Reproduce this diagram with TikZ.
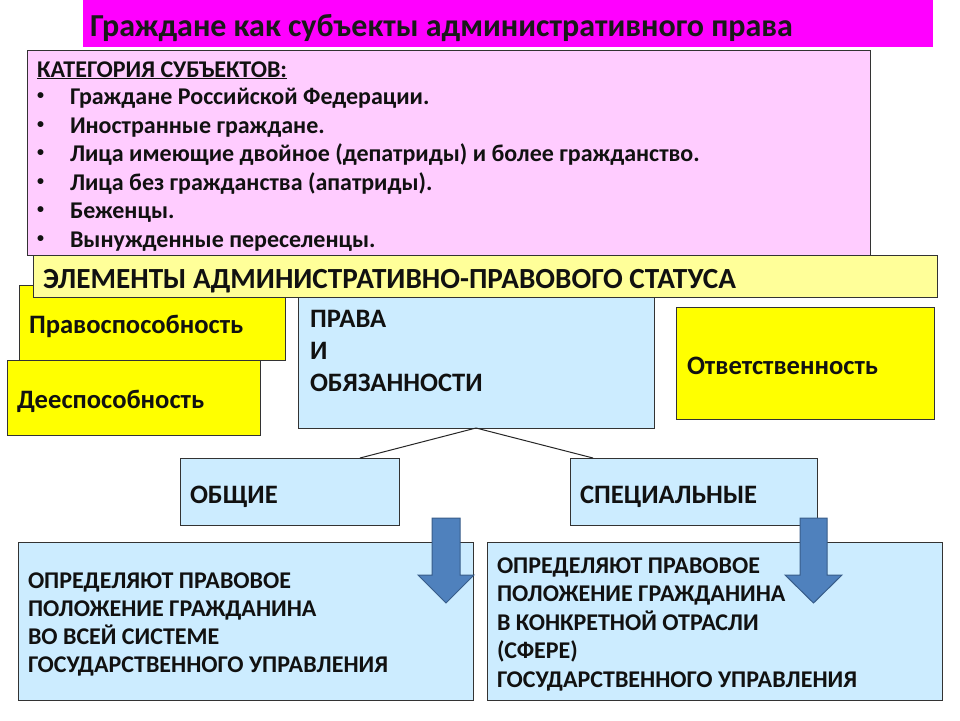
\documentclass[tikz,border=0pt]{standalone}
\usepackage{fontspec}
\setmainfont{Carlito}
\definecolor{magentaT}{HTML}{FF00FF}
\definecolor{pinkB}{HTML}{FFCCFF}
\definecolor{lyellow}{HTML}{FFFF99}
\definecolor{yellowB}{HTML}{FFFF00}
\definecolor{lblue}{HTML}{CCECFF}
\definecolor{arrowF}{HTML}{4F81BD}
\definecolor{arrowD}{HTML}{385D8A}
\definecolor{inkT}{HTML}{111111}
\begin{document}
\begin{tikzpicture}[x=1pt,y=-1pt,
  box/.style={draw=black!80, line width=0.9pt, anchor=north west, inner sep=0pt, outer sep=0pt},
  txt/.style={anchor=base west, inner sep=0pt, outer sep=0pt, text=inkT, font=\fontsize{24}{28}\selectfont\bfseries},
  bigtxt/.style={txt, font=\fontsize{26.6}{30}\selectfont\bfseries},
  blockarrow/.style={fill=arrowF, draw=arrowD, line width=1pt, line join=miter},
  conn/.style={draw=black!85, line width=1pt}]
\useasboundingbox (0,0) rectangle (960,720);
\fill[white] (0,0) rectangle (960,720);

% title
\node[anchor=north west, fill=magentaT, minimum width=850pt, minimum height=47pt, inner sep=0pt] (title) at (83,0) {};
\node[txt, font=\fontsize{32}{38}\selectfont\bfseries, text=black!90] (titletxt) at (90,36) {Граждане как субъекты административного права};

% categories
\node[box, fill=pinkB, minimum width=843pt, minimum height=205pt] (cat) at (27,50) {};
\node[txt] (cathead) at (37,77) {\underline{КАТЕГОРИЯ СУБЪЕКТОВ:}};
\foreach \i/\yy/\t in {1/104/{Граждане Российской Федерации.},
                       2/133/{Иностранные граждане.},
                       3/161/{Лица имеющие двойное (депатриды) и более гражданство.},
                       4/190/{Лица без гражданства (апатриды).},
                       5/218/{Беженцы.},
                       6/247/{Вынужденные переселенцы.}}{
  \node[txt] (bul\i) at (37,\yy-5) {\fontsize{14}{16}\selectfont•};
  \node[txt] (cat\i) at (70,\yy) {\t};
}

% rights and duties (behind bar)
\node[box, fill=lblue, minimum width=356pt, minimum height=143pt] (prava) at (298,285) {};
\node[bigtxt] (pr1) at (310,327) {ПРАВА};
\node[bigtxt] (pr2) at (310,359) {И};
\node[bigtxt] (pr3) at (310,391) {ОБЯЗАННОСТИ};

% capacity boxes
\node[box, fill=yellowB, minimum width=266pt, minimum height=75pt] (pravosp) at (19,285) {};
\node[bigtxt] (pravosptxt) at (29,333) {Правоспособность};

% elements bar
\node[box, fill=lyellow, minimum width=904pt, minimum height=42pt] (elem) at (33,255) {};
\node[txt, font=\fontsize{29.2}{32}\selectfont\bfseries] (elemtxt) at (43,288) {ЭЛЕМЕНТЫ АДМИНИСТРАТИВНО-ПРАВОВОГО СТАТУСА};

\node[box, fill=yellowB, minimum width=253pt, minimum height=75pt] (deesp) at (7,360) {};
\node[bigtxt] (deesptxt) at (17,408) {Дееспособность};

\node[box, fill=yellowB, minimum width=258pt, minimum height=112pt] (otv) at (676,307) {};
\node[bigtxt] (otvtxt) at (687,374) {Ответственность};

% general / special
\node[box, fill=lblue, minimum width=219pt, minimum height=67pt] (obsh) at (180,458) {};
\node[bigtxt] (obshtxt) at (190,503) {ОБЩИЕ};
\node[box, fill=lblue, minimum width=247pt, minimum height=67pt] (spec) at (570,458) {};
\node[bigtxt] (spectxt) at (580,503) {СПЕЦИАЛЬНЫЕ};

\draw[conn] (prava.south) -- ([xshift=70.5pt]obsh.north);
\draw[conn] (prava.south) -- ([xshift=-100.5pt]spec.north);

% bottom boxes
\node[box, fill=lblue, minimum width=455pt, minimum height=158pt] (botL) at (18,542) {};
\foreach \i/\yy/\t in {1/588/{ОПРЕДЕЛЯЮТ ПРАВОВОЕ},
                       2/616/{ПОЛОЖЕНИЕ ГРАЖДАНИНА},
                       3/644/{ВО ВСЕЙ СИСТЕМЕ},
                       4/672/{ГОСУДАРСТВЕННОГО УПРАВЛЕНИЯ}}{
  \node[txt] (bl\i) at (28,\yy) {\t};
}
\node[box, fill=lblue, minimum width=455pt, minimum height=158pt] (botR) at (487,542) {};
\foreach \i/\yy/\t in {1/573/{ОПРЕДЕЛЯЮТ ПРАВОВОЕ},
                       2/601.5/{ПОЛОЖЕНИЕ ГРАЖДАНИНА},
                       3/630/{В КОНКРЕТНОЙ ОТРАСЛИ},
                       4/658.5/{(СФЕРЕ)},
                       5/687/{ГОСУДАРСТВЕННОГО УПРАВЛЕНИЯ}}{
  \node[txt] (br\i) at (497,\yy) {\t};
}

% block arrows
\draw[blockarrow] (432,518) -- (460,518) -- (460,575) -- (474,575) -- (446,603) -- (418,575) -- (432,575) -- cycle;
\draw[blockarrow] (800,518) -- (827,518) -- (827,575) -- (842,575) -- (813.5,603) -- (785,575) -- (800,575) -- cycle;
\end{tikzpicture}
\end{document}
